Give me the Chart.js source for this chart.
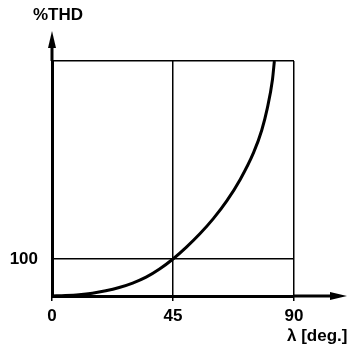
<!DOCTYPE html>
<html><head><meta charset="utf-8">
<script src="https://cdn.jsdelivr.net/npm/chart.js@4"></script>
<style>html,body{margin:0;padding:0;background:#fff}#w{width:361px;height:353px;position:relative}</style>
</head><body><div id="w"><canvas id="c"></canvas></div>
<script>
const angleDeg = [0, 5, 10, 15, 20, 25, 30, 35, 40, 45, 50, 55, 60, 65, 70, 75, 78, 80, 82, 82.7];
const thdPercent = [0, 1.3, 3.5, 7.5, 14, 23, 35, 51, 73, 100, 132, 168, 209, 257, 315, 388, 448, 505, 585, 635];
const xTicks = [0, 45, 90];
const xLabels = ['0', '45', '90'];
const yTicks = [0, 100, 635];
const yLabels = ['', '100', ''];
const xTitle = 'λ [deg.]';
const yTitle = '%THD';

const FAMILY = '"Liberation Sans", Arial, sans-serif';

const arrows = {
  id: 'arrows',
  afterDraw(chart) {
    const {ctx, chartArea: a} = chart;
    ctx.save();
    ctx.strokeStyle = '#000'; ctx.fillStyle = '#000'; ctx.lineWidth = 3;
    const tipY = a.top - 30;
    ctx.beginPath(); ctx.moveTo(a.left, a.top); ctx.lineTo(a.left, tipY + 12); ctx.stroke();
    ctx.beginPath(); ctx.moveTo(a.left, tipY); ctx.lineTo(a.left - 4, tipY + 17); ctx.lineTo(a.left + 4, tipY + 17); ctx.closePath(); ctx.fill();
    const tipX = a.right + 53;
    ctx.beginPath(); ctx.moveTo(a.right, a.bottom); ctx.lineTo(tipX - 12, a.bottom); ctx.stroke();
    ctx.beginPath(); ctx.moveTo(tipX, a.bottom); ctx.lineTo(tipX - 17, a.bottom - 4); ctx.lineTo(tipX - 17, a.bottom + 4); ctx.closePath(); ctx.fill();
    ctx.font = 'bold 17px ' + FAMILY;
    ctx.textBaseline = 'middle';
    ctx.textAlign = 'left';
    ctx.fillText(yTitle, a.left - 19, 15);
    ctx.fillText(xTitle, a.right - 7, a.bottom + 40);
    ctx.restore();
  }
};

new Chart(document.getElementById('c'), {
  type: 'line',
  data: {
    datasets: [{
      data: angleDeg.map((x, i) => ({x, y: thdPercent[i]})),
      borderColor: '#000',
      borderWidth: 3,
      pointRadius: 0,
      fill: false,
      cubicInterpolationMode: 'monotone'
    }]
  },
  options: {
    responsive: true,
    maintainAspectRatio: false,
    animation: false,
    devicePixelRatio: 1,
    layout: {padding: {top: 61, right: 67, left: 0, bottom: 0}},
    plugins: {legend: {display: false}, tooltip: {enabled: false}},
    scales: {
      x: {
        type: 'linear', min: 0, max: 90,
        afterBuildTicks: s => { s.ticks = xTicks.map(v => ({value: v})); },
        afterFit: s => { s.height = 57; },
        ticks: {
          color: '#000', font: {family: FAMILY, size: 17, weight: 'bold'},
          padding: 5, maxRotation: 0,
          callback: (v) => xLabels[xTicks.indexOf(v)]
        },
        grid: {color: '#000', lineWidth: 1.5, tickLength: 5, drawTicks: true},
        border: {color: '#000', width: 3}
      },
      y: {
        type: 'linear', min: 0, max: 635,
        afterBuildTicks: s => { s.ticks = yTicks.map(v => ({value: v})); },
        afterFit: s => { s.width = 52; },
        ticks: {
          color: '#000', font: {family: FAMILY, size: 17, weight: 'bold'},
          padding: 14,
          callback: (v) => yLabels[yTicks.indexOf(v)]
        },
        grid: {color: '#000', lineWidth: 1.5, drawTicks: false, tickLength: 0},
        border: {color: '#000', width: 3}
      }
    }
  },
  plugins: [arrows]
});
</script>
</body></html>
